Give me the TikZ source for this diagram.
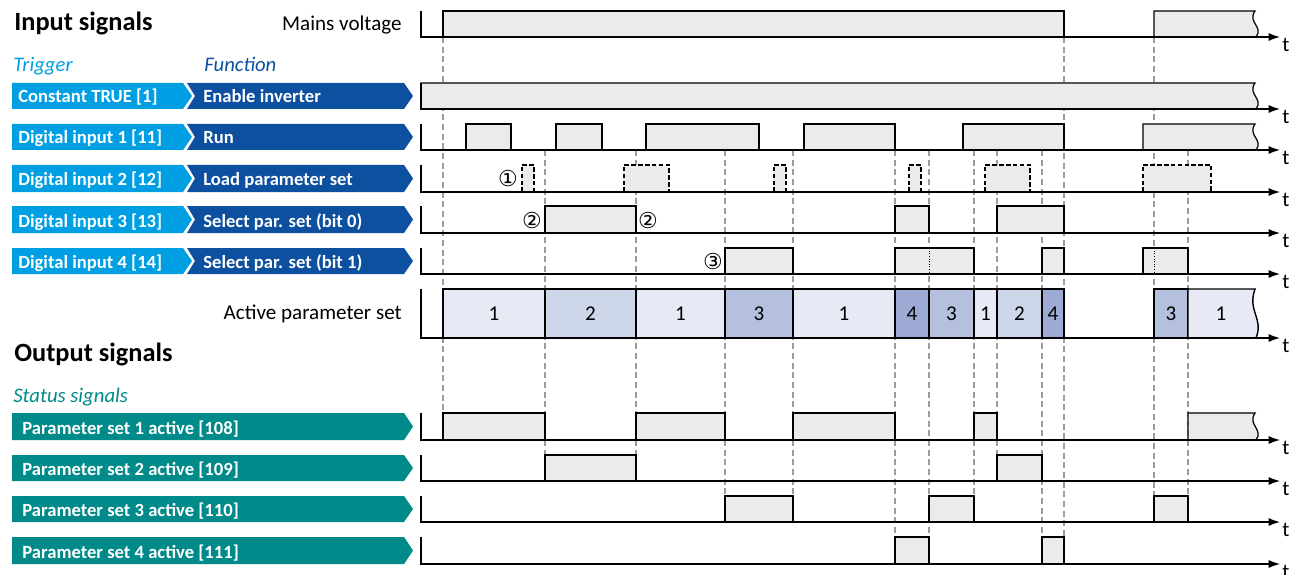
\documentclass[tikz,border=0pt]{standalone}
\usepackage{fontspec}
\setmainfont{Carlito}
\newfontfamily\circfont{DejaVu Sans}
\usetikzlibrary{arrows.meta}

\definecolor{trigblue}{HTML}{009FE3}
\definecolor{funcblue}{HTML}{0C509F}
\definecolor{statteal}{HTML}{008A8A}
\definecolor{pulsegray}{HTML}{EAEBEB}
\definecolor{guidegray}{HTML}{9C9C9C}
\definecolor{setone}{HTML}{E7EAF5}
\definecolor{settwo}{HTML}{CED6EA}
\definecolor{setthree}{HTML}{B5C0DE}
\definecolor{setfour}{HTML}{9DAAD4}

% open end of a pulse: x, top, base, style
\newcommand\openpulse[4]{%
  \draw[#4] (#1,#3) -- (#1,#2) -- (1255,#2)
    .. controls (1247,{#2+0.45*(#3-#2)}) and (1264,{#2+0.6*(#3-#2)}) .. (1256,#3);}

\begin{document}
\begin{tikzpicture}[x=0.02cm,y=-0.02cm,
  heading/.style={font=\fontsize{15}{17}\selectfont\bfseries,anchor=base west,inner sep=0},
  subhead/.style={font=\fontsize{11.8}{13}\selectfont\itshape,anchor=base west,inner sep=0},
  plain/.style={font=\fontsize{12}{14}\selectfont,inner sep=0},
  tag/.style={font=\fontsize{10.6}{12}\selectfont\bfseries,text=white,anchor=base west,inner sep=0},
  circ/.style={font=\circfont\fontsize{12.5}{13}\selectfont,inner sep=0},
  axisline/.style={line width=0.7pt,-{Latex[length=6.5pt,width=4.6pt]}},
  pulse/.style={draw,line width=0.7pt,fill=pulsegray},
  loadpulse/.style={pulse,dash pattern=on 2.6pt off 1.3pt},
  setbox/.style={draw,line width=0.8pt},
  guide/.style={draw=guidegray,line width=0.6pt,dash pattern=on 3.5pt off 2pt}]
  \useasboundingbox (0,0) rectangle (1293,574);

  % headings
  \node[heading] (insig) at (14,31) {Input signals};
  \node[plain,anchor=base east] (mains) at (402,31) {Mains voltage};
  \node[subhead,text=trigblue] (trig) at (13,72) {Trigger};
  \node[subhead,text=funcblue] (func) at (204,72) {Function};
  \node[plain,anchor=base east] (actset) at (402,319) {Active parameter set};
  \node[heading] (outsig) at (14,361) {Output signals};
  \node[subhead,text=statteal] (stat) at (13,402) {Status signals};

  % guide lines
  \foreach \x/\ya/\yb in {443/37/413,545/150/455,636/150/455,725/150/496,793/150/496,
    895/150/537,929/150/537,974/150/496,997/150/455,1042/150/537,1064/37/537,
    1154/37/496,1188/150/496}
    \draw[guide] (\x,\ya) -- (\x,\yb);

  % input tags
  \foreach \n/\yt/\yb/\trg/\fct in {1/83/109/Constant TRUE [1]/Enable inverter,
    2/124/150/Digital input 1 [11]/Run,
    3/165/192/Digital input 2 [12]/Load parameter set,
    4/206/233/Digital input 3 [13]/Select par. set (bit 0),
    5/248/274/Digital input 4 [14]/Select par. set (bit 1)}{
    \fill[trigblue] (12,\yt) -- (183,\yt) -- (192,{(\yt+\yb)/2}) -- (183,\yb) -- (12,\yb) -- cycle;
    \fill[funcblue] (187,\yt) -- (404,\yt) -- (413,{(\yt+\yb)/2}) -- (404,\yb)
      -- (187,\yb) -- (195,{(\yt+\yb)/2}) -- cycle;
    \node[tag] (trg\n) at (18,\yb-6) {\trg};
    \node[tag] (fct\n) at (203,\yb-6) {\fct};
  }

  % output tags
  \foreach \n/\yt/\yb/\lbl in {1/413/440/Parameter set 1 active [108],
    2/455/481/Parameter set 2 active [109],
    3/496/522/Parameter set 3 active [110],
    4/537/564/Parameter set 4 active [111]}{
    \fill[statteal] (12,\yt) -- (404,\yt) -- (413,{(\yt+\yb)/2}) -- (404,\yb) -- (12,\yb) -- cycle;
    \node[tag] (out\n) at (22,\yb-6) {\lbl};
  }

  % mains voltage and enable
  \draw[pulse] (443,37) rectangle (1064,11);
  \openpulse{1154}{11}{37}{pulse}
  \openpulse{421}{83}{109}{pulse}

  % run
  \foreach \a/\b in {466/511,556/602,646/759,804/895,963/1064}
    \draw[pulse] (\a,150) rectangle (\b,124);
  \openpulse{1143}{124}{150}{pulse}

  % load parameter set
  \foreach \a/\b in {522/534,624/669,774/786,909/921,985/1030,1143/1211}
    \draw[loadpulse] (\a,192) rectangle (\b,165);

  % select bits
  \foreach \a/\b in {545/636,895/929,997/1064}
    \draw[pulse] (\a,233) rectangle (\b,206);
  \foreach \a/\b in {725/793,895/974,1042/1064,1143/1188}
    \draw[pulse] (\a,274) rectangle (\b,248);
  \draw[densely dotted,line width=0.5pt] (929,248) -- (929,274);
  \draw[densely dotted,line width=0.5pt] (1154,248) -- (1154,274);

  \node[circ] (note1) at (508,179) {①};
  \node[circ] (note2a) at (532,220) {②};
  \node[circ] (note2b) at (648,220) {②};
  \node[circ] (note3) at (713,261) {③};

  % active parameter set
  \foreach \a/\b/\s/\c [count=\k] in {443/545/1/setone,545/636/2/settwo,636/725/1/setone,
    725/793/3/setthree,793/895/1/setone,895/929/4/setfour,929/974/3/setthree,
    974/997/1/setone,997/1042/2/settwo,1042/1064/4/setfour,1154/1188/3/setthree}{
    \draw[setbox,fill=\c] (\a,338) rectangle (\b,289);
    \node[plain] (set\k) at ({(\a+\b)/2},314) {\s};
  }
  \openpulse{1188}{289}{338}{setbox,fill=setone}
  \node[plain] (setlast) at (1221,314) {1};

  % status signals
  \foreach \a/\b in {443/545,636/725,793/895,974/997}
    \draw[pulse] (\a,440) rectangle (\b,413);
  \openpulse{1188}{413}{440}{pulse}
  \foreach \a/\b in {545/636,997/1042}
    \draw[pulse] (\a,481) rectangle (\b,455);
  \foreach \a/\b in {725/793,929/974,1154/1188}
    \draw[pulse] (\a,522) rectangle (\b,496);
  \foreach \a/\b in {895/929,1042/1064}
    \draw[pulse] (\a,564) rectangle (\b,537);

  % time axes
  \foreach \n/\yt/\yb in {0/11/37,1/83/109,2/124/150,3/165/192,4/206/233,5/248/274,
    6/289/338,7/413/440,8/455/481,9/496/522,10/537/564}{
    \draw[axisline] (421,\yt) -- (421,\yb) -- (1280,\yb);
    \node[plain] (t\n) at (1286,\yb+8) {t};
  }
\end{tikzpicture}
\end{document}
